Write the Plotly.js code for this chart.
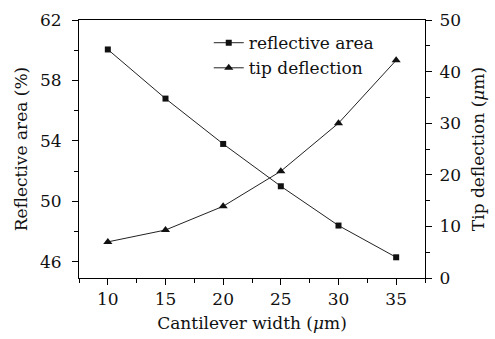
<!DOCTYPE html>
<html>
<head>
<meta charset="utf-8">
<script src="https://cdn.plot.ly/plotly-3.0.1.min.js"></script>
<style>html,body{margin:0;padding:0;background:#fff;}#chart{width:495px;height:339px;}</style>
</head>
<body>
<div id="chart"></div>
<script>
const widths = [10, 15, 20, 25, 30, 35];
const reflectiveArea = [60.05, 56.8, 53.8, 51.0, 48.4, 46.3];
const tipDeflection = [7.0, 9.3, 13.9, 20.7, 30.0, 42.2];
const seriesNames = ['reflective area', 'tip deflection'];

const fontFamily = '"DejaVu Serif", "Liberation Serif", serif';
const fs = 17;

const traces = [
  {
    x: widths, y: reflectiveArea, name: seriesNames[0],
    type: 'scatter', mode: 'lines+markers',
    line: {color: '#222', width: 1},
    marker: {symbol: 'square', size: 6, color: '#111'},
    yaxis: 'y'
  },
  {
    x: widths, y: tipDeflection, name: seriesNames[1],
    type: 'scatter', mode: 'lines+markers',
    line: {color: '#222', width: 1},
    marker: {symbol: 'triangle-up', size: 8, color: '#111'},
    yaxis: 'y2'
  }
];

const axisCommon = {
  showline: true, linecolor: '#000', linewidth: 1,
  showgrid: false, zeroline: false,
  ticks: 'outside', ticklen: 6, tickwidth: 1, tickcolor: '#000',
  tickfont: {family: fontFamily, size: fs, color: '#111'},
};

const layout = {
  width: 495, height: 339,
  margin: {l: 79, r: 70, t: 20, b: 61},
  paper_bgcolor: '#fff', plot_bgcolor: '#fff',
  font: {family: fontFamily, color: '#111'},
  showlegend: true,
  legend: {
    x: 0.375, y: 0.98, xanchor: 'left', yanchor: 'top',
    bgcolor: 'rgba(0,0,0,0)', borderwidth: 0,
    font: {family: fontFamily, size: fs, color: '#111'},
    itemwidth: 30, tracegroupgap: 0
  },
  xaxis: Object.assign({}, axisCommon, {
    range: [7.5, 37.5], tickvals: [10, 15, 20, 25, 30, 35],
    mirror: true,
    minor: {tickvals: [7.5, 12.5, 17.5, 22.5, 27.5, 32.5, 37.5], ticks: 'outside', ticklen: 4, tickcolor: '#000'},
    title: {text: 'Cantilever width (<i>μ</i>m)', font: {family: fontFamily, size: fs, color: '#111'}, standoff: 8}
  }),
  yaxis: Object.assign({}, axisCommon, {
    range: [44.93, 62], tickvals: [46, 50, 54, 58, 62],
    ticklabelstandoff: 7,
    minor: {tickvals: [48, 52, 56, 60], ticks: 'outside', ticklen: 4, tickcolor: '#000'},
    title: {text: 'Reflective area (%)', font: {family: fontFamily, size: fs, color: '#111'}, standoff: 8}
  }),
  yaxis2: Object.assign({}, axisCommon, {
    overlaying: 'y', side: 'right',
    range: [0, 50], tickvals: [0, 10, 20, 30, 40, 50],
    ticklabelstandoff: 4,
    minor: {tickvals: [5, 15, 25, 35, 45], ticks: 'outside', ticklen: 4, tickcolor: '#000'},
    title: {text: 'Tip deflection (<i>μ</i>m)', font: {family: fontFamily, size: fs, color: '#111'}, standoff: 12}
  })
};

Plotly.newPlot('chart', traces, layout, {staticPlot: true, displayModeBar: false});
</script>
</body>
</html>
